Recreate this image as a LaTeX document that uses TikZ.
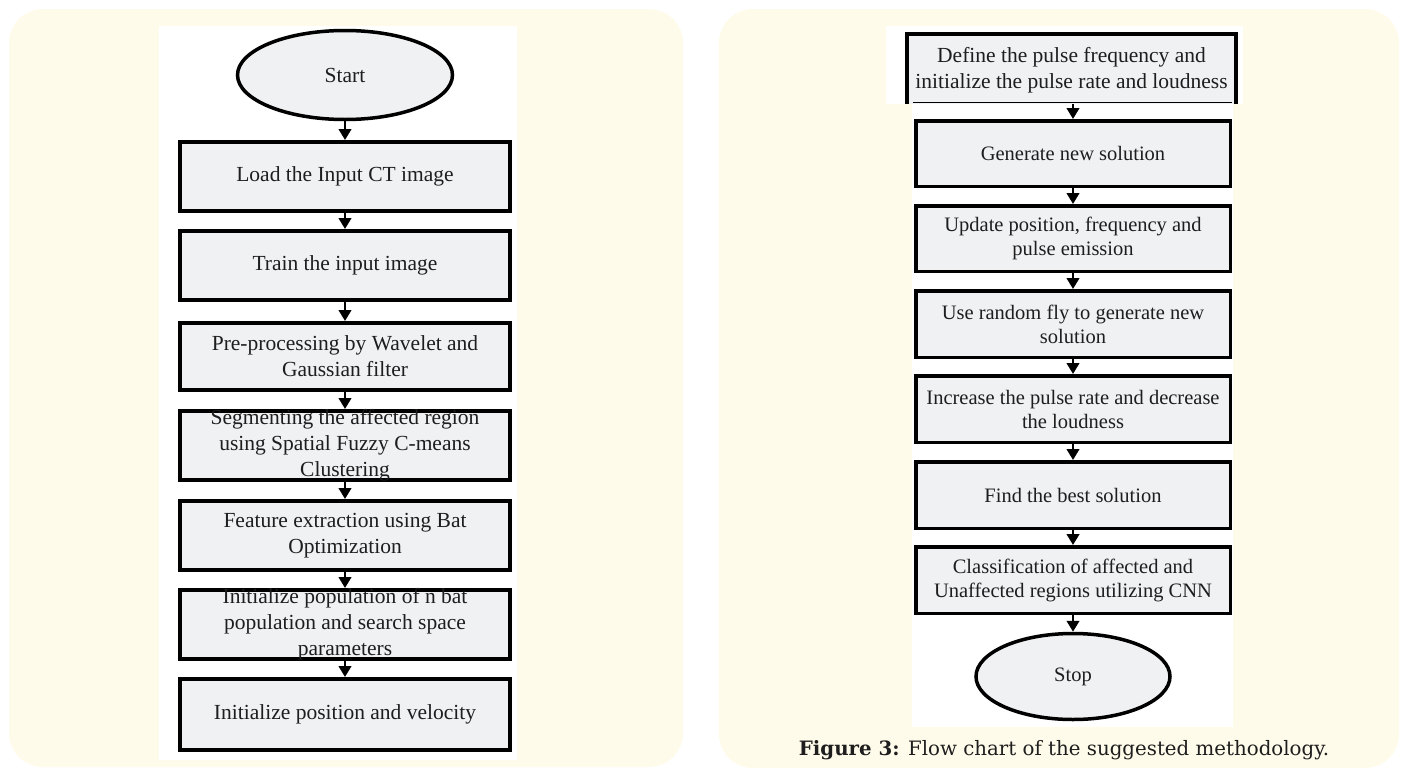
\documentclass[tikz,border=0pt]{standalone}
\usepackage{fontspec}
\setmainfont{Liberation Serif}
\newfontfamily\capfont{DejaVu Serif}
\usetikzlibrary{arrows.meta,shapes.geometric}
\definecolor{panelcream}{HTML}{FFFBEA}
\definecolor{boxgray}{HTML}{F0F1F3}
\definecolor{inkgray}{HTML}{1E1E1E}

\begin{document}
\begin{tikzpicture}[x=1pt,y=-1pt,
  panel/.style={fill=panelcream, rounded corners=34pt},
  sheet/.style={fill=white},
  lbox/.style={draw=black, line width=4pt, fill=boxgray, inner sep=0pt, minimum width=330pt},
  rbox/.style={draw=black, line width=3.5pt, fill=boxgray, inner sep=0pt, minimum width=314.5pt},
  terminal/.style={ellipse, draw=black, line width=3.5pt, fill=boxgray, inner sep=0pt, text=inkgray},
  steptext/.style={font=\fontsize{21.5}{26}\selectfont, text=inkgray, align=center, inner sep=0pt},
  smalltext/.style={font=\fontsize{20.5}{24}\selectfont, text=inkgray, align=center, inner sep=0pt},
  flow/.style={line width=2.6pt, -{Triangle[width=12.5pt,length=11pt]}},
]
\useasboundingbox (0,0) rectangle (1401,769);
\fill[white] (0,0) rectangle (1401,769);

% two cream panels
\fill[panel] (9,9) rectangle (683,767);
\fill[panel] (719,9) rectangle (1399,768);

% white sheets behind the charts
\fill[sheet] (159,26) rectangle (517,760);
\fill[sheet] (886,26) rectangle (1243,104);
\fill[sheet] (912,104) rectangle (1233,727);

% ---------- left chart ----------
\node[terminal, font=\fontsize{21.5}{26}\selectfont, minimum width=215pt, minimum height=89pt] (start) at (345,75) {Start};

\node[lbox, minimum height=69pt] (b1) at (345,176.5) {};
\node[steptext] (b1t) at (b1.center) {Load the Input CT image};

\node[lbox, minimum height=69pt] (b2) at (345,265.5) {};
\node[steptext] (b2t) at (b2.center) {Train the input image};

\node[lbox, minimum height=67pt] (b3) at (345,356.5) {};
\node[steptext] (b3t) at (b3.center) {Pre-processing by Wavelet and\\Gaussian filter};

\node[lbox, minimum height=69pt] (b4) at (345,445.5) {};
\node[steptext] (b4t) at (b4.center) {Segmenting the affected region\\using Spatial Fuzzy C-means\\Clustering};

\node[lbox, minimum height=69pt] (b5) at (345,535.5) {};
\node[steptext] (b5t) at (b5.center) {Feature extraction using Bat\\Optimization};

\node[lbox, minimum height=69pt] (b6) at (345,624.5) {};
\node[steptext] (b6t) at (b6.center) {Initialize population of n bat\\population and search space\\parameters};

\node[lbox, minimum height=71pt] (b7) at (345,714.5) {};
\node[steptext] (b7t) at (b7.center) {Initialize position and velocity};

\draw[flow] (start.south) -- (b1.north);
\draw[flow] (b1.south) -- (b2.north);
\draw[flow] (b2.south) -- (b3.north);
\draw[flow] (b3.south) -- (b4.north);
\draw[flow] (b4.south) -- (b5.north);
\draw[flow] (b5.south) -- (b6.north);
\draw[flow] (b6.south) -- (b7.north);

% ---------- right chart ----------
\node[fill=boxgray, inner sep=0pt, minimum width=329pt, minimum height=70pt] (r0) at (1071.5,69) {};
\draw[line width=3.5pt] (r0.south west) -- (r0.north west) -- (r0.north east) -- (r0.south east);
\draw[line width=1.5pt] ([xshift=6pt,yshift=1.5pt]r0.south west) -- ([xshift=-4pt,yshift=1.5pt]r0.south east);
\node[steptext] (r0t) at ([yshift=-1pt]r0.center) {Define the pulse frequency and\\initialize the pulse rate and loudness};

\node[rbox, minimum height=65.5pt] (r1) at (1073,153.5) {};
\node[smalltext] (r1t) at (r1.center) {Generate new solution};

\node[rbox, minimum height=65.5pt] (r2) at (1073,238.5) {};
\node[smalltext] (r2t) at (r2.center) {Update position, frequency and\\pulse emission};

\node[rbox, minimum height=66.5pt] (r3) at (1073,324) {};
\node[smalltext] (r3t) at (r3.center) {Use random fly to generate new\\solution};

\node[rbox, minimum height=66.5pt] (r4) at (1073,409) {};
\node[smalltext] (r4t) at (r4.center) {Increase the pulse rate and decrease\\the loudness};

\node[rbox, minimum height=66.5pt] (r5) at (1073,495) {};
\node[smalltext] (r5t) at (r5.center) {Find the best solution};

\node[rbox, minimum height=66.5pt] (r6) at (1073,580) {};
\node[smalltext] (r6t) at (r6.center) {Classification of affected and\\Unaffected regions utilizing CNN};

\node[terminal, font=\fontsize{20.5}{24}\selectfont, minimum width=194pt, minimum height=86pt] (stop) at (1073,676.5) {Stop};

\draw[flow] (r0.south -| r1.north) -- (r1.north);
\draw[flow] (r1.south) -- (r2.north);
\draw[flow] (r2.south) -- (r3.north);
\draw[flow] (r3.south) -- (r4.north);
\draw[flow] (r4.south) -- (r5.north);
\draw[flow] (r5.south) -- (r6.north);
\draw[flow] (r6.south) -- (stop.north);

% caption
\node[font=\capfont\fontsize{19.8}{24}\selectfont, text=inkgray, inner sep=0pt] (caption) at (1064,750)
  {\textbf{Figure 3:} Flow chart of the suggested methodology.};
\end{tikzpicture}
\end{document}
